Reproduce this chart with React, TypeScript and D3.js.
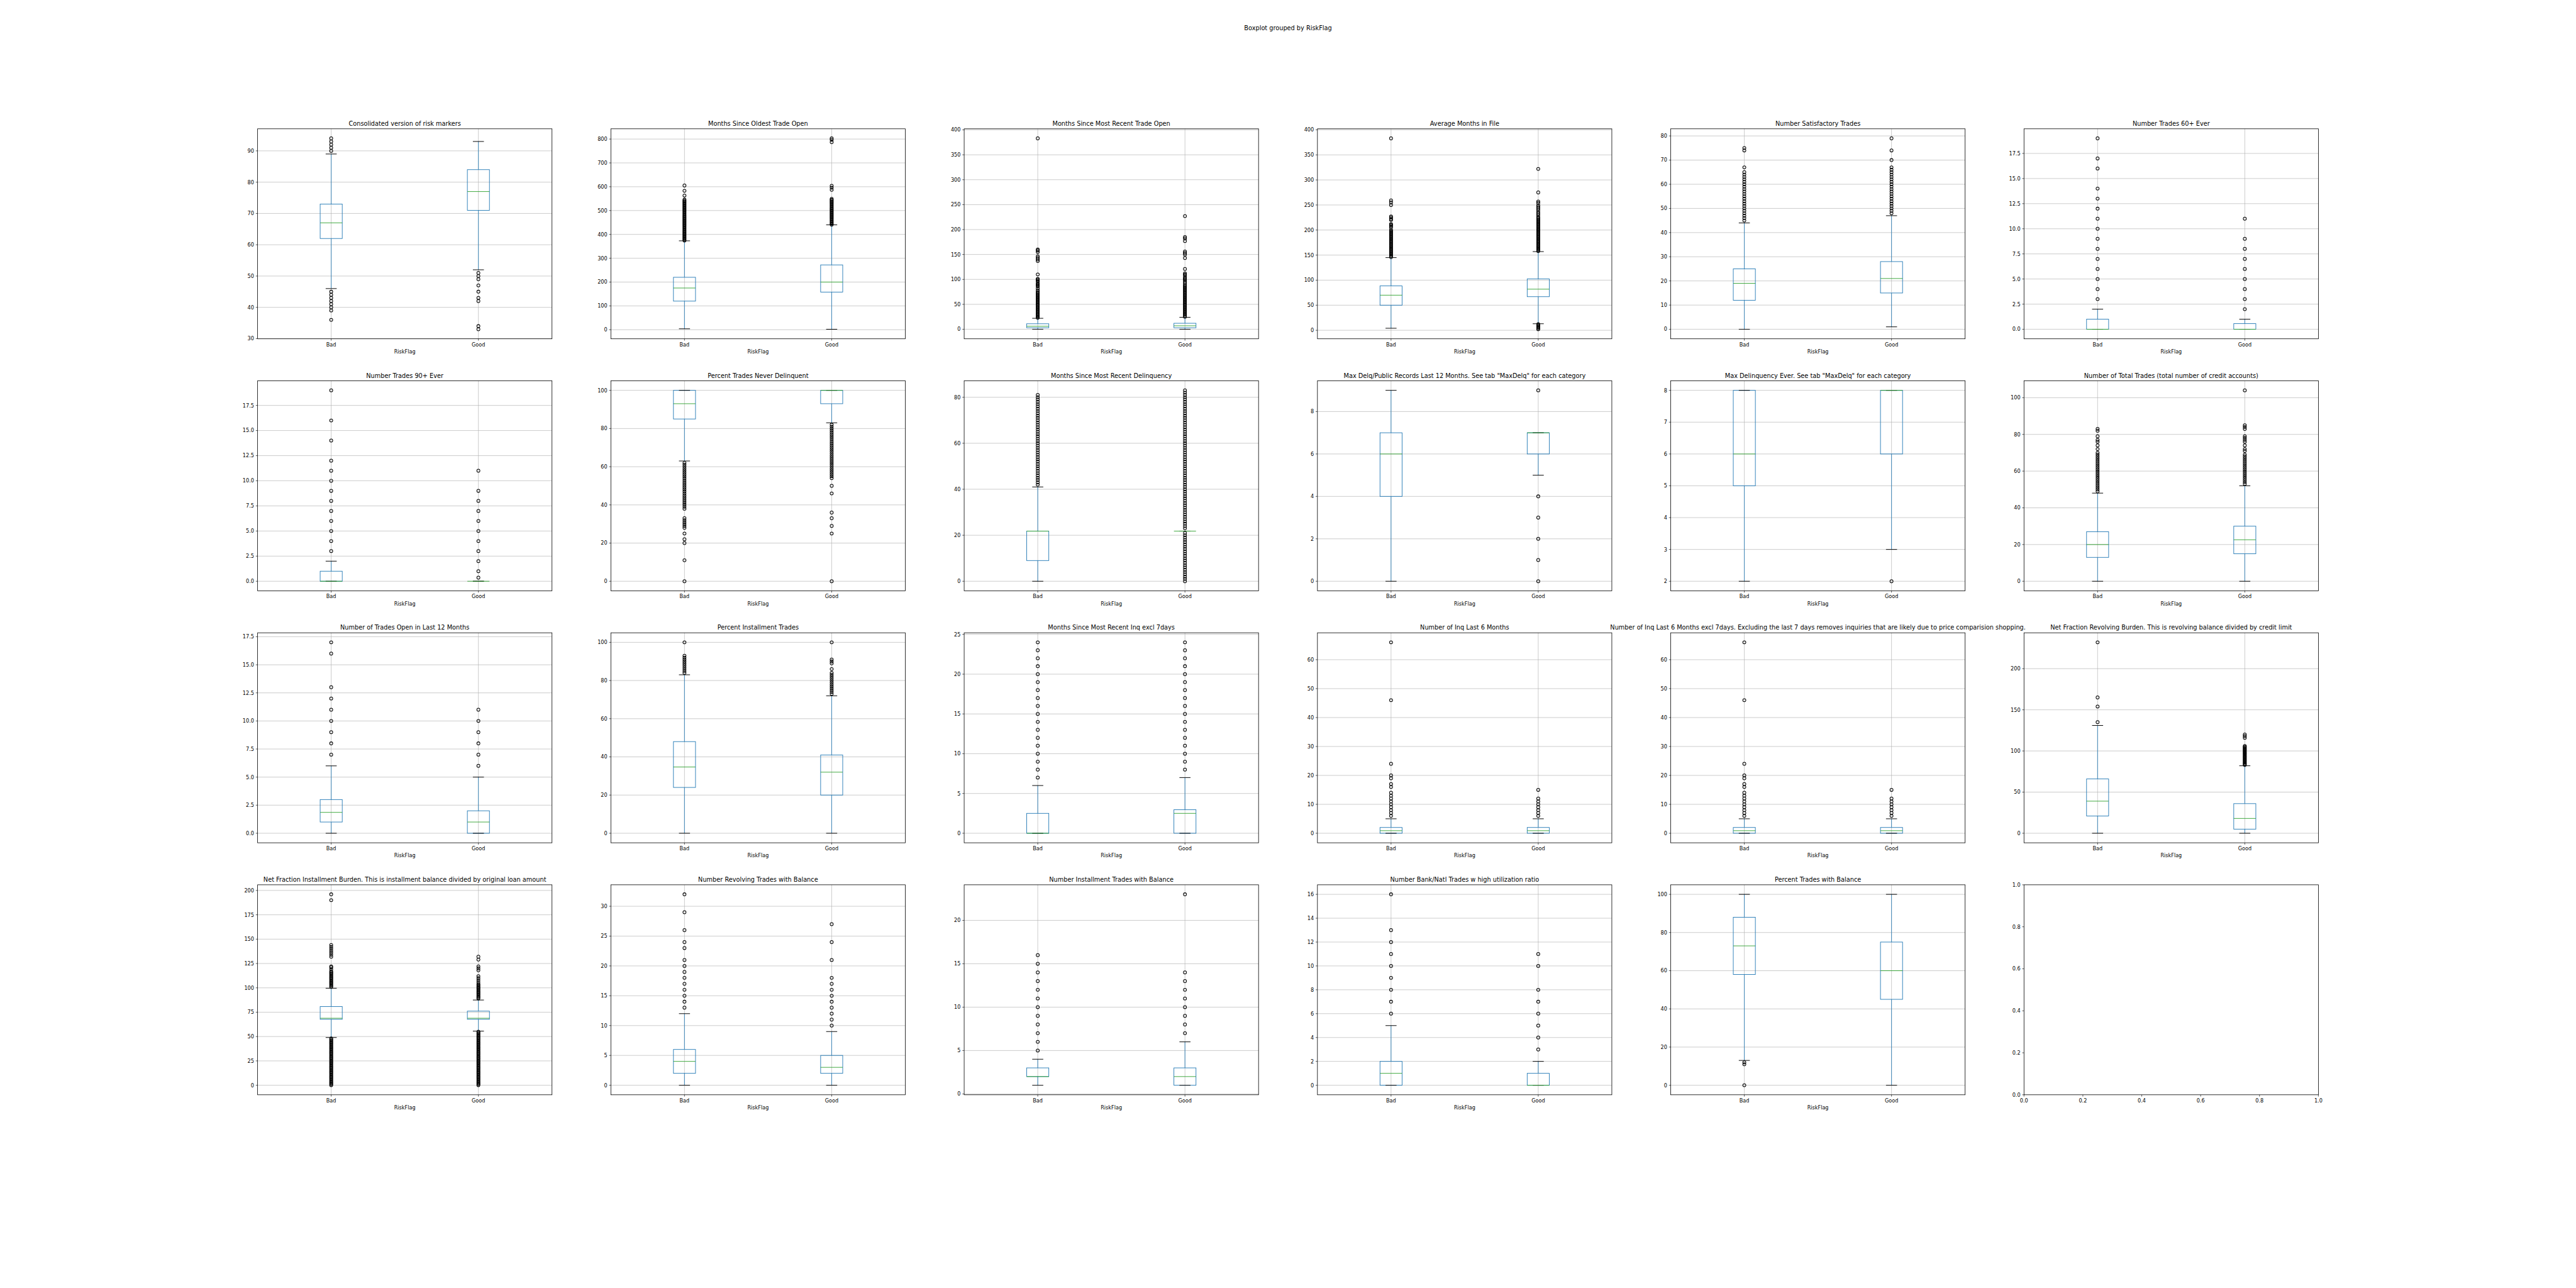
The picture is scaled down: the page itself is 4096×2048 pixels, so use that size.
import React from 'react';
import * as d3 from 'd3';

// figure geometry of the reference (pixels), drawn at 4096/5040
const FIG_W = 5040;
const FIG_H = 2520;
const SCALE = 4096 / FIG_W;
const PANEL_W = 576;
const PANEL_H = 410.87;
const GAP_X = 115.2;
const GAP_Y = 82.17;
const LEFT = 504;
const TOP = 252;

const groups = ['Bad', 'Good'];

const titles = [
  'Consolidated version of risk markers',
  'Months Since Oldest Trade Open',
  'Months Since Most Recent Trade Open',
  'Average Months in File',
  'Number Satisfactory Trades',
  'Number Trades 60+ Ever',
  'Number Trades 90+ Ever',
  'Percent Trades Never Delinquent',
  'Months Since Most Recent Delinquency',
  'Max Delq/Public Records Last 12 Months. See tab "MaxDelq" for each category',
  'Max Delinquency Ever. See tab "MaxDelq" for each category',
  'Number of Total Trades (total number of credit accounts)',
  'Number of Trades Open in Last 12 Months',
  'Percent Installment Trades',
  'Months Since Most Recent Inq excl 7days',
  'Number of Inq Last 6 Months',
  'Number of Inq Last 6 Months excl 7days. Excluding the last 7 days removes inquiries that are likely due to price comparision shopping.',
  'Net Fraction Revolving Burden. This is revolving balance divided by credit limit',
  'Net Fraction Installment Burden. This is installment balance divided by original loan amount',
  'Number Revolving Trades with Balance',
  'Number Installment Trades with Balance',
  'Number Bank/Natl Trades w high utilization ratio',
  'Percent Trades with Balance',
];

const yTickLabels = [
  ['30', '40', '50', '60', '70', '80', '90'],
  ['0', '100', '200', '300', '400', '500', '600', '700', '800'],
  ['0', '50', '100', '150', '200', '250', '300', '350', '400'],
  ['0', '50', '100', '150', '200', '250', '300', '350', '400'],
  ['0', '10', '20', '30', '40', '50', '60', '70', '80'],
  ['0.0', '2.5', '5.0', '7.5', '10.0', '12.5', '15.0', '17.5'],
  ['0.0', '2.5', '5.0', '7.5', '10.0', '12.5', '15.0', '17.5'],
  ['0', '20', '40', '60', '80', '100'],
  ['0', '20', '40', '60', '80'],
  ['0', '2', '4', '6', '8'],
  ['2', '3', '4', '5', '6', '7', '8'],
  ['0', '20', '40', '60', '80', '100'],
  ['0.0', '2.5', '5.0', '7.5', '10.0', '12.5', '15.0', '17.5'],
  ['0', '20', '40', '60', '80', '100'],
  ['0', '5', '10', '15', '20', '25'],
  ['0', '10', '20', '30', '40', '50', '60'],
  ['0', '10', '20', '30', '40', '50', '60'],
  ['0', '50', '100', '150', '200'],
  ['0', '25', '50', '75', '100', '125', '150', '175', '200'],
  ['0', '5', '10', '15', '20', '25', '30'],
  ['0', '5', '10', '15', '20'],
  ['0', '2', '4', '6', '8', '10', '12', '14', '16'],
  ['0', '20', '40', '60', '80', '100'],
];

// [lower whisker, Q1, median, Q3, upper whisker]
const badStats = [
  [46, 62, 67, 73, 89],
  [4, 120, 175, 220, 373],
  [0, 3, 6, 11, 22],
  [4, 50, 70, 88.5, 145],
  [0, 12, 19, 25, 44],
  [0, 0, 0, 1, 2],
  [0, 0, 0, 1, 2],
  [63, 85, 93, 100, 100],
  [0, 9, 21.8, 21.8, 41],
  [0, 4, 6, 7, 9],
  [2, 5, 6, 8, 8],
  [0, 13, 20, 27, 48],
  [0, 1, 1.86, 3, 6],
  [0, 24, 34.7, 48, 83],
  [0, 0, 0, 2.5, 6],
  [0, 0, 0.88, 2, 5],
  [0, 0, 0.88, 2, 5],
  [0, 21, 39, 66, 131],
  [49, 67.7, 68.8, 80.8, 99.6],
  [0, 2, 4, 6, 12],
  [1, 2, 2, 3, 4],
  [0, 0, 1, 2, 5],
  [13, 58, 73, 88, 100],
];

const goodStats = [
  [52, 71, 77, 84, 93],
  [2, 158, 200, 272, 440],
  [0, 3, 7, 12, 24],
  [13, 67, 82, 102.5, 157],
  [1, 15, 21, 28, 47],
  [0, 0, 0, 0.56, 1],
  [0, 0, 0, 0, 0],
  [83, 93, 100, 100, 100],
  [21.8, 21.8, 21.8, 21.8, 21.8],
  [5, 6, 7, 7, 7],
  [3, 6, 8, 8, 8],
  [0, 15, 22.6, 30, 52],
  [0, 0, 1, 2, 5],
  [0, 20, 32, 41, 72],
  [0, 0, 2.5, 2.96, 7],
  [0, 0, 0.88, 2, 5],
  [0, 0, 0.88, 2, 5],
  [0, 5, 18, 36, 82],
  [55.6, 67.7, 68.8, 76.1, 87.5],
  [0, 2, 3, 5, 9],
  [1, 1, 2, 3, 6],
  [0, 0, 0, 1, 2],
  [0, 45, 60, 75, 100],
];

const badFliers = [
  [90, 91, 92, 93, 94, 45, 44, 43, 42, 41, 40, 39, 36],
  [374, 378, 382, 386, 390, 394, 398, 402, 406, 410, 414, 418, 422, 426, 430, 434, 438, 442, 446, 450, 454, 458, 462, 466, 470, 474, 478, 482, 486, 490, 494, 498, 502, 506, 510, 514, 518, 522, 526, 530, 534, 538, 542, 546, 563, 583, 605],
  [23, 25, 27, 29, 31, 33, 35, 37, 39, 41, 43, 45, 47, 49, 51, 53, 55, 57, 59, 61, 63, 65, 67, 69, 71, 73, 75, 78, 82, 86, 88, 90, 92, 96, 98, 100, 101, 110, 137, 140, 143, 146, 155, 158, 160, 383],
  [146, 148, 150, 152, 154, 156, 158, 160, 162, 164, 166, 168, 170, 172, 174, 176, 178, 180, 182, 184, 186, 188, 190, 192, 194, 196, 198, 200, 205, 208, 210, 212, 220, 222, 225, 227, 250, 255, 259, 383],
  [45, 46, 47, 48, 49, 50, 51, 52, 53, 54, 55, 56, 57, 58, 59, 60, 61, 62, 63, 64, 65, 67, 74, 75],
  [3, 4, 5, 6, 7, 8, 9, 10, 11, 12, 13, 14, 16, 17, 19],
  [3, 4, 5, 6, 7, 8, 9, 10, 11, 12, 14, 16, 19],
  [38, 39, 40, 41, 42, 43, 44, 45, 46, 47, 48, 49, 50, 51, 52, 53, 54, 55, 56, 57, 58, 59, 60, 61, 62, 33, 32, 31, 30, 29, 28, 25, 22, 20, 11, 0],
  [42, 43, 44, 45, 46, 47, 48, 49, 50, 51, 52, 53, 54, 55, 56, 57, 58, 59, 60, 61, 62, 63, 64, 65, 66, 67, 68, 69, 70, 71, 72, 73, 74, 75, 76, 77, 78, 79, 80, 81],
  [],
  [],
  [49, 50, 51, 52, 53, 54, 55, 56, 57, 58, 59, 60, 61, 62, 63, 64, 65, 66, 67, 68, 69, 70, 72, 74, 76, 77, 79, 82, 83],
  [7, 8, 9, 10, 11, 12, 13, 16, 17],
  [84, 85, 86, 87, 88, 89, 90, 91, 92, 93, 100],
  [7, 8, 9, 10, 11, 12, 13, 14, 15, 16, 17, 18, 19, 20, 21, 22, 23, 24],
  [6, 7, 8, 9, 10, 11, 12, 13, 14, 16, 17, 19, 20, 24, 46, 66],
  [6, 7, 8, 9, 10, 11, 12, 13, 14, 16, 17, 19, 20, 24, 46, 66],
  [135, 154, 165, 232],
  [0, 1, 2, 3, 4, 5, 6, 7, 8, 9, 10, 11, 12, 13, 14, 15, 16, 17, 18, 19, 20, 21, 22, 23, 24, 25, 26, 27, 28, 29, 30, 31, 32, 33, 34, 35, 36, 37, 38, 39, 40, 41, 42, 43, 44, 45, 46, 47, 48,
    101, 102, 103, 104, 105, 106, 107, 108, 109, 110, 111, 112, 113, 114, 115, 116, 117, 119, 121, 122, 132, 134, 136, 138, 140, 142, 144, 190, 196],
  [13, 14, 15, 16, 17, 18, 19, 20, 21, 23, 24, 26, 29, 32],
  [5, 6, 7, 8, 9, 10, 11, 12, 13, 14, 15, 16],
  [6, 7, 8, 9, 10, 11, 12, 13, 16],
  [11, 12, 0],
];

const goodFliers = [
  [51, 50, 49, 47, 45, 43, 42, 34, 33],
  [441, 445, 449, 453, 457, 461, 465, 469, 473, 477, 481, 485, 489, 493, 497, 501, 505, 509, 513, 517, 521, 525, 529, 533, 537, 541, 545, 549, 587, 596, 604, 787, 797, 803],
  [25, 27, 29, 31, 33, 35, 37, 39, 41, 43, 45, 47, 49, 51, 53, 55, 57, 59, 61, 63, 65, 67, 69, 71, 73, 75, 77, 79, 81, 83, 85, 87, 89, 92, 95, 98, 100, 102, 104, 108, 110, 112, 121, 143, 150, 153, 156, 177, 182, 185, 227],
  [2, 4, 6, 8, 10, 12, 158, 160, 162, 164, 166, 168, 170, 172, 174, 176, 178, 180, 182, 184, 186, 188, 190, 192, 194, 196, 198, 200, 202, 204, 206, 208, 210, 212, 214, 216, 218, 220, 222, 224, 226, 230, 233, 236, 240, 243, 246, 249, 254, 257, 275, 322],
  [48, 49, 50, 51, 52, 53, 54, 55, 56, 57, 58, 59, 60, 61, 62, 63, 64, 65, 66, 67, 70, 74, 79],
  [2, 3, 4, 5, 6, 7, 8, 9, 11],
  [0.36, 1, 2, 3, 4, 5, 6, 7, 8, 9, 11],
  [54, 55, 56, 57, 58, 59, 60, 61, 62, 63, 64, 65, 66, 67, 68, 69, 70, 71, 72, 73, 74, 75, 76, 77, 78, 79, 80, 81, 82, 50, 46, 36, 33, 29, 25, 0],
  [0, 1, 2, 3, 4, 5, 6, 7, 8, 9, 10, 11, 12, 13, 14, 15, 16, 17, 18, 19, 20, 21, 23, 24, 25, 26, 27, 28, 29, 30, 31, 32, 33, 34, 35, 36, 37, 38, 39, 40, 41,
    42, 43, 44, 45, 46, 47, 48, 49, 50, 51, 52, 53, 54, 55, 56, 57, 58, 59, 60, 61, 62, 63, 64, 65, 66, 67, 68, 69, 70, 71, 72, 73, 74, 75, 76, 77, 78, 79, 80, 81, 82, 83],
  [9, 4, 3, 2, 1, 0],
  [2],
  [53, 54, 55, 56, 57, 58, 59, 60, 61, 62, 63, 64, 65, 66, 67, 68, 69, 71, 72, 74, 76, 77, 78, 79, 83, 84, 85, 104],
  [6, 7, 8, 9, 10, 11],
  [73, 74, 75, 76, 77, 78, 79, 80, 81, 82, 83, 84, 86, 89, 90, 91, 100],
  [8, 9, 10, 11, 12, 13, 14, 15, 16, 17, 18, 19, 20, 21, 22, 23, 24],
  [6, 7, 8, 9, 10, 11, 12, 15],
  [6, 7, 8, 9, 10, 11, 12, 15],
  [83, 84, 85, 86, 87, 88, 89, 90, 91, 92, 93, 94, 95, 96, 97, 98, 99, 100, 101, 102, 103, 104, 105, 106, 116, 118, 120],
  [0, 1, 2, 3, 4, 5, 6, 7, 8, 9, 10, 11, 12, 13, 14, 15, 16, 17, 18, 19, 20, 21, 22, 23, 24, 25, 26, 27, 28, 29, 30, 31, 32, 33, 34, 35, 36, 37, 38, 39, 40, 41, 42, 43, 44, 45, 46, 47, 48, 49, 50, 51, 52, 53, 54, 55,
    89, 90, 91, 92, 93, 94, 95, 96, 97, 98, 99, 100, 101, 102, 103, 104, 106, 108, 110, 112, 118, 120, 122, 129, 132],
  [10, 11, 12, 13, 14, 15, 16, 17, 18, 21, 24, 27],
  [7, 8, 9, 10, 11, 12, 13, 14, 23],
  [3, 4, 5, 6, 7, 8, 10, 11],
  [],
];

const emptyTicks = ['0.0', '0.2', '0.4', '0.6', '0.8', '1.0'];

const C_BOX = '#1f77b4';
const C_MED = '#2ca02c';
const C_GRID = '#b0b0b0';
const FONT = 'DejaVu Sans';

const BoxPanel: React.FC<{ i: number; px: number; py: number }> = ({ i, px, py }) => {
  const stats = [badStats[i], goodStats[i]];
  const fliers = [badFliers[i], goodFliers[i]];
  const all = [...stats.flat(), ...fliers.flat()];
  const [mn, mx] = d3.extent(all) as [number, number];
  const pad = (mx - mn) * 0.05;
  const y = d3.scaleLinear().domain([mn - pad, mx + pad]).range([PANEL_H, 0]);
  const x = d3.scaleLinear().domain([0.5, 2.5]).range([0, PANEL_W]);
  const boxW = x(1.15) - x(1);
  const capW = boxW / 2;
  const ticks = yTickLabels[i].map(t => ({ label: t, v: +t }));

  return (
    <g transform={`translate(${px},${py})`}>
      {/* grid */}
      {ticks.map(t => (
        <line key={'gy' + t.label} x1={0} x2={PANEL_W} y1={y(t.v)} y2={y(t.v)} stroke={C_GRID} strokeWidth={0.8} />
      ))}
      {groups.map((g, k) => (
        <line key={'gx' + g} x1={x(k + 1)} x2={x(k + 1)} y1={0} y2={PANEL_H} stroke={C_GRID} strokeWidth={0.8} />
      ))}
      {/* boxes */}
      {stats.map((s, k) => {
        const cx = x(k + 1);
        const [lo, q1, med, q3, hi] = s;
        return (
          <g key={'b' + k}>
            <rect x={cx - boxW / 2} y={y(q3)} width={boxW} height={y(q1) - y(q3)} fill="none" stroke={C_BOX} strokeWidth={1.1} />
            <line x1={cx} x2={cx} y1={y(q1)} y2={y(lo)} stroke={C_BOX} strokeWidth={1} />
            <line x1={cx} x2={cx} y1={y(q3)} y2={y(hi)} stroke={C_BOX} strokeWidth={1} />
            <line x1={cx - capW / 2} x2={cx + capW / 2} y1={y(lo)} y2={y(lo)} stroke="#000" strokeWidth={1.2} />
            <line x1={cx - capW / 2} x2={cx + capW / 2} y1={y(hi)} y2={y(hi)} stroke="#000" strokeWidth={1.2} />
            <line x1={cx - boxW / 2} x2={cx + boxW / 2} y1={y(med)} y2={y(med)} stroke={C_MED} strokeWidth={1.1} />
            {fliers[k].map((v, j) => (
              <circle key={j} cx={cx} cy={y(v)} r={3} fill="none" stroke="#000" strokeWidth={1.25} />
            ))}
          </g>
        );
      })}
      {/* spines */}
      <rect x={0} y={0} width={PANEL_W} height={PANEL_H} fill="none" stroke="#000" strokeWidth={1} />
      {/* y ticks */}
      {ticks.map(t => (
        <g key={'ty' + t.label}>
          <line x1={-3.5} x2={0} y1={y(t.v)} y2={y(t.v)} stroke="#000" strokeWidth={0.8} />
          <text x={-7} y={y(t.v) + 3.6} fontSize={10} textAnchor="end" fontFamily={FONT}>{t.label}</text>
        </g>
      ))}
      {/* x ticks */}
      {groups.map((g, k) => (
        <g key={'tx' + g}>
          <line x1={x(k + 1)} x2={x(k + 1)} y1={PANEL_H} y2={PANEL_H + 3.5} stroke="#000" strokeWidth={0.8} />
          <text x={x(k + 1)} y={PANEL_H + 14.6} fontSize={10} textAnchor="middle" fontFamily={FONT}>{g}</text>
        </g>
      ))}
      <text x={PANEL_W / 2} y={PANEL_H + 28.8} fontSize={10} textAnchor="middle" fontFamily={FONT}>RiskFlag</text>
      <text x={PANEL_W / 2} y={-6} fontSize={12} textAnchor="middle" fontFamily={FONT}>{titles[i]}</text>
    </g>
  );
};

const EmptyPanel: React.FC<{ px: number; py: number }> = ({ px, py }) => {
  const y = d3.scaleLinear().domain([0, 1]).range([PANEL_H, 0]);
  const x = d3.scaleLinear().domain([0, 1]).range([0, PANEL_W]);
  return (
    <g transform={`translate(${px},${py})`}>
      <rect x={0} y={0} width={PANEL_W} height={PANEL_H} fill="none" stroke="#000" strokeWidth={1} />
      {emptyTicks.map(t => (
        <g key={'y' + t}>
          <line x1={-3.5} x2={0} y1={y(+t)} y2={y(+t)} stroke="#000" strokeWidth={0.8} />
          <text x={-7} y={y(+t) + 3.6} fontSize={10} textAnchor="end" fontFamily={FONT}>{t}</text>
        </g>
      ))}
      {emptyTicks.map(t => (
        <g key={'x' + t}>
          <line x1={x(+t)} x2={x(+t)} y1={PANEL_H} y2={PANEL_H + 3.5} stroke="#000" strokeWidth={0.8} />
          <text x={x(+t)} y={PANEL_H + 14.6} fontSize={10} textAnchor="middle" fontFamily={FONT}>{t}</text>
        </g>
      ))}
    </g>
  );
};

const App: React.FC = () => {
  const pos = (n: number) => ({
    px: LEFT + (n % 6) * (PANEL_W + GAP_X),
    py: TOP + Math.floor(n / 6) * (PANEL_H + GAP_Y),
  });
  return (
    <svg
      width={4096}
      height={2048}
      style={{ position: 'absolute', left: 0, top: 0, background: '#fff' }}
    >
      <g transform={`scale(${SCALE})`}>
        <rect x={0} y={0} width={FIG_W} height={FIG_H} fill="#fff" />
        <text x={FIG_W / 2} y={59.5} fontSize={12} textAnchor="middle" fontFamily={FONT}>Boxplot grouped by RiskFlag</text>
        {titles.map((t, i) => {
          const p = pos(i);
          return <BoxPanel key={i} i={i} px={p.px} py={p.py} />;
        })}
        <EmptyPanel {...pos(23)} />
      </g>
    </svg>
  );
};

export default App;
